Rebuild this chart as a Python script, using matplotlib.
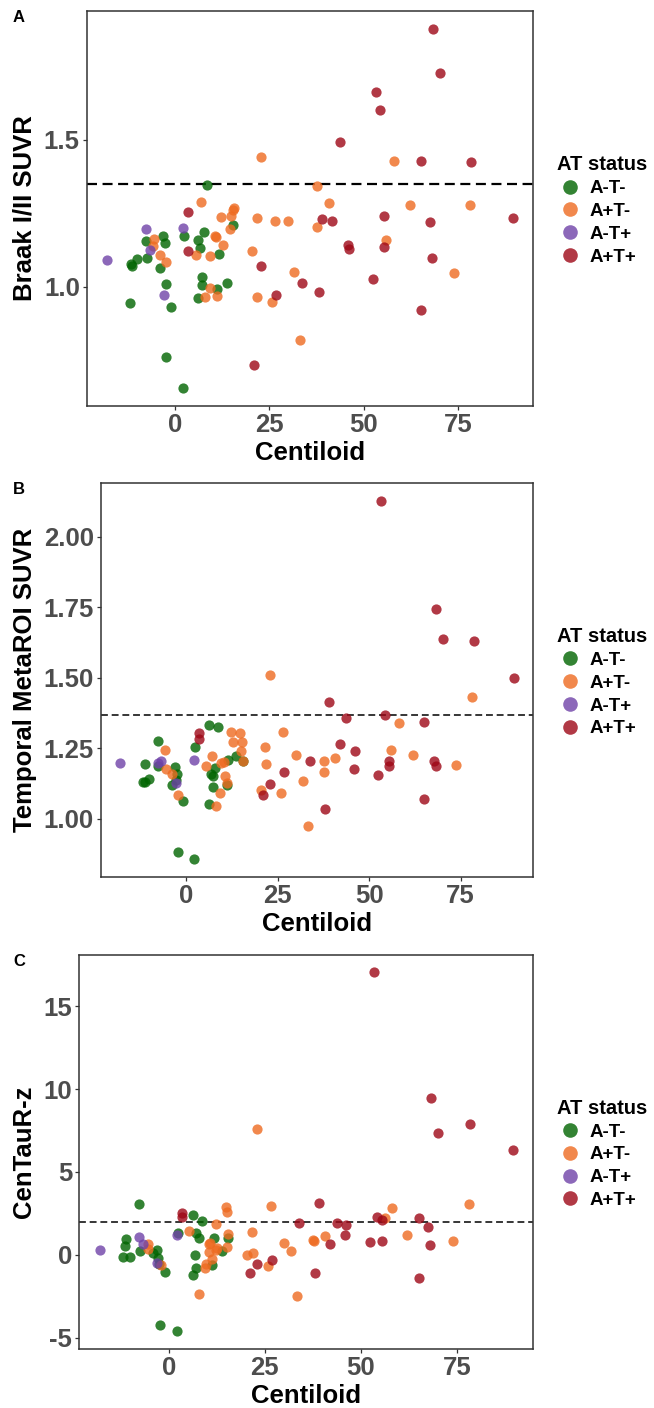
import matplotlib
matplotlib.use("Agg")
import matplotlib.pyplot as plt
from matplotlib.lines import Line2D
import numpy as np

plt.rcParams['font.family'] = ['Liberation Sans', 'DejaVu Sans']
plt.rcParams['font.weight'] = 'bold'

statuses = ["A-T-", "A+T-", "A-T+", "A+T+"]
colors = {"A-T-": "#006400", "A+T-": "#EE6A20", "A-T+": "#6F42A8", "A+T+": "#9E0716"}

# ---------------- Panel A: Braak I/II SUVR ----------------
a_neg_x = [8.5, 15.4, 7.7, -3.1, 2.4, -7.7, -2.7, 6.1, 6.6, 11.6, -10.0, -7.5, -11.6, -11.3, -4.0,
           7.2, -2.5, 7.2, 13.7, 11.1, 6.1, -11.9, -1.1, -2.3, 2.1]
a_neg_y = [1.346, 1.209, 1.186, 1.173, 1.172, 1.156, 1.148, 1.161, 1.131, 1.111, 1.095, 1.098, 1.078,
           1.070, 1.063, 1.032, 1.011, 1.006, 1.014, 0.994, 0.962, 0.945, 0.933, 0.761, 0.656]
a_apos_x = [22.9, 58.1, 37.7, 7.0, 40.8, 62.1, 78.2, 15.5, 15.3, 14.9, 12.2, 21.7, 26.4, 30.0, 14.7,
            37.7, -5.5, -5.8, 10.6, 10.8, 56.0, 12.7, -3.9, 5.5, 9.3, 20.5, -2.4, 31.6, 73.8, 9.3,
            8.0, 11.1, 21.8, 25.6, 33.2]
a_apos_y = [1.441, 1.428, 1.343, 1.289, 1.285, 1.279, 1.277, 1.268, 1.260, 1.240, 1.236, 1.234, 1.223,
            1.223, 1.197, 1.205, 1.163, 1.140, 1.173, 1.169, 1.161, 1.141, 1.109, 1.109, 1.106, 1.123,
            1.085, 1.049, 1.046, 0.995, 0.965, 0.968, 0.966, 0.947, 0.819]
a_tpos_x = [-18.0, -7.8, 2.2, -6.7, -2.9]
a_tpos_y = [1.093, 1.198, 1.199, 1.124, 0.972]
a_both_x = [68.4, 70.2, 53.3, 54.4, 43.6, 65.1, 78.5, 89.5, 55.3, 39.0, 41.7, 67.5, 45.8, 46.2, 55.3,
            68.1, 3.5, 3.5, 22.9, 33.7, 52.5, 38.2, 26.8, 65.1, 21.0]
a_both_y = [1.877, 1.728, 1.661, 1.602, 1.493, 1.429, 1.426, 1.235, 1.241, 1.232, 1.223, 1.221, 1.144,
            1.130, 1.137, 1.097, 1.256, 1.123, 1.070, 1.012, 1.027, 0.983, 0.974, 0.920, 0.736]
a_cut = 1.35
a_yticks = [1.0, 1.5]
a_yticklabels = ["1.0", "1.5"]

# ---------------- Panel B: Temporal MetaROI SUVR ----------------
b_neg_x = [6.2, 8.6, -7.8, 2.3, -11.2, -7.8, -3.1, -2.5, -10.1, -11.9, -11.4, -2.8, -3.9, -0.9, -2.3,
           2.2, 7.8, 6.7, 7.2, 7.2, 11.1, 6.1, 11.4, 13.5, 15.5]
b_neg_y = [1.334, 1.325, 1.275, 1.254, 1.195, 1.186, 1.183, 1.160, 1.142, 1.131, 1.131, 1.139, 1.121,
           1.064, 0.882, 0.856, 1.180, 1.160, 1.151, 1.113, 1.121, 1.051, 1.209, 1.224, 1.205]
b_apos_x = [-5.7, -5.5, -4.0, -2.3, 5.3, 7.0, 8.0, 9.2, 9.4, 10.2, 10.6, 11.1, 12.1, 12.8, 14.8, 15.0,
            15.1, 15.4, 20.4, 21.6, 21.8, 22.8, 25.8, 26.4, 30.1, 31.8, 33.4, 37.7, 37.7, 40.7, 56.0,
            58.1, 62.0, 73.8, 78.2]
b_apos_y = [1.243, 1.177, 1.160, 1.084, 1.189, 1.222, 1.047, 1.092, 1.198, 1.203, 1.153, 1.127, 1.307,
            1.271, 1.303, 1.239, 1.271, 1.206, 1.103, 1.256, 1.195, 1.509, 1.090, 1.309, 1.226, 1.134,
            0.974, 1.204, 1.167, 1.216, 1.243, 1.340, 1.226, 1.192, 1.434]
b_tpos_x = [-18.0, -6.8, -7.7, 2.2, -2.8]
b_tpos_y = [1.198, 1.204, 1.198, 1.209, 1.127]
b_both_x = [53.2, 68.3, 70.3, 78.6, 89.5, 39.0, 54.3, 43.6, 65.1, 3.5, 3.5, 41.9, 46.1, 33.7, 55.4,
            55.4, 67.6, 68.2, 45.8, 52.4, 26.7, 22.9, 21.0, 38.0, 65.1]
b_both_y = [2.127, 1.744, 1.639, 1.630, 1.499, 1.416, 1.367, 1.356, 1.343, 1.305, 1.283, 1.267, 1.242,
            1.205, 1.205, 1.189, 1.206, 1.188, 1.176, 1.154, 1.165, 1.124, 1.085, 1.034, 1.070]
b_cut = 1.37
b_yticks = [1.00, 1.25, 1.50, 1.75, 2.00]
b_yticklabels = ["1.00", "1.25", "1.50", "1.75", "2.00"]

# ---------------- Panel C: CenTauR-z ----------------
c_neg_x = [-7.7, 6.3, 8.7, 2.4, 7.1, 7.8, 11.8, 15.4, -11.0, -11.3, -7.5, -2.9, -4.0, -2.7, -11.9,
           -10.0, 6.8, 13.8, -2.4, -0.9, 7.1, 11.3, 6.3, -2.2, 2.1]
c_neg_y = [3.05, 2.42, 2.04, 1.30, 1.30, 1.00, 1.04, 1.00, 0.96, 0.52, 0.22, 0.30, 0.10, -0.16, -0.10,
           -0.10, -0.02, 0.22, -0.56, -1.02, -0.76, -0.60, -1.24, -4.21, -4.61]
c_apos_x = [22.9, 78.1, 26.5, 58.1, 14.8, 15.2, 12.3, 56.2, 5.4, 21.8, 15.4, 62.1, 40.7, 37.6, 37.8,
            73.9, 30.0, 10.7, -5.5, -5.4, 31.8, 12.6, 15.2, 10.5, 22.0, 20.5, 11.2, 9.6, 9.4, 25.9,
            -2.1, 7.9, 33.3, 10.4, 12.2]
c_apos_y = [7.60, 3.09, 2.93, 2.81, 2.89, 2.59, 1.88, 2.24, 1.42, 1.38, 1.28, 1.18, 1.16, 0.90, 0.86,
            0.82, 0.72, 0.70, 0.68, 0.38, 0.26, 0.44, 0.50, 0.16, 0.14, -0.02, -0.26, -0.52, -0.76,
            -0.66, -0.58, -2.36, -2.48, 0.64, 0.30]
c_tpos_x = [-17.9, -7.8, -6.6, 2.2, -2.9]
c_tpos_y = [0.30, 1.08, 0.68, 1.22, -0.46]
c_both_x = [53.3, 68.3, 78.5, 70.1, 89.5, 39.1, 3.6, 3.6, 54.2, 65.1, 55.5, 33.8, 43.7, 46.2, 67.5,
            45.8, 52.5, 55.4, 41.9, 68.1, 26.8, 23.0, 21.1, 38.1, 65.1]
c_both_y = [17.03, 9.44, 7.90, 7.33, 6.35, 3.11, 2.50, 2.30, 2.26, 2.24, 2.10, 1.90, 1.94, 1.78, 1.68,
            1.20, 0.78, 0.84, 0.68, 0.62, -0.28, -0.54, -1.08, -1.12, -1.42]
c_cut = 2.0
c_yticks = [-5, 0, 5, 10, 15]
c_yticklabels = ["-5", "0", "5", "10", "15"]

x_ticks = [0, 25, 50, 75]
x_ticklabels = ["0", "25", "50", "75"]

W, H = 654, 1408
fig = plt.figure(figsize=(W / 100, H / 100), dpi=100)


def rect(left, top, right, bottom):
    return [left / W, 1 - bottom / H, (right - left) / W, (bottom - top) / H]


panels = [
    dict(tag="A", ylabel="Braak I/II SUVR", rect=rect(86.7, 11, 533.3, 406),
         data=[(a_neg_x, a_neg_y), (a_apos_x, a_apos_y), (a_tpos_x, a_tpos_y), (a_both_x, a_both_y)],
         cut=a_cut, yt=a_yticks, ytl=a_yticklabels, dash_lw=1.6, ylab_px=25, tag_y=18),
    dict(tag="B", ylabel="Temporal MetaROI SUVR", rect=rect(100.8, 483.3, 533.3, 877.3),
         data=[(b_neg_x, b_neg_y), (b_apos_x, b_apos_y), (b_tpos_x, b_tpos_y), (b_both_x, b_both_y)],
         cut=b_cut, yt=b_yticks, ytl=b_yticklabels, dash_lw=1.1, ylab_px=25, tag_y=490),
    dict(tag="C", ylabel="CenTauR-z", rect=rect(79.2, 954.5, 533.3, 1349.3),
         data=[(c_neg_x, c_neg_y), (c_apos_x, c_apos_y), (c_tpos_x, c_tpos_y), (c_both_x, c_both_y)],
         cut=c_cut, yt=c_yticks, ytl=c_yticklabels, dash_lw=1.1, ylab_px=24.5, tag_y=962),
]

for p in panels:
    ax = fig.add_axes(p["rect"])
    allx = np.concatenate([np.asarray(d[0]) for d in p["data"]])
    ally = np.concatenate([np.asarray(d[1]) for d in p["data"]] + [np.array([p["cut"]])])
    for st, (xs, ys) in zip(statuses, p["data"]):
        ax.scatter(xs, ys, s=54, color=colors[st], alpha=0.8, linewidths=0, zorder=3)
    ax.axhline(p["cut"], color="black", lw=p["dash_lw"], dashes=(4.5, 2.5), zorder=2)
    xr = allx.max() - allx.min()
    yr = ally.max() - ally.min()
    ax.set_xlim(allx.min() - 0.05 * xr, allx.max() + 0.05 * xr)
    ax.set_ylim(ally.min() - 0.05 * yr, ally.max() + 0.05 * yr)
    ax.set_xticks(x_ticks)
    ax.set_xticklabels(x_ticklabels)
    ax.set_yticks(p["yt"])
    ax.set_yticklabels(p["ytl"])
    ax.tick_params(axis="both", length=3.0, width=0.9, color="#333333", pad=2,
                   labelsize=18.5, labelcolor="#4D4D4D")
    for lab in ax.get_xticklabels() + ax.get_yticklabels():
        lab.set_fontweight("bold")
    for sp in ax.spines.values():
        sp.set_color("#333333")
        sp.set_linewidth(1.1)
    axw = p["rect"][2] * W
    axh = p["rect"][3] * H
    ax.set_xlabel("Centiloid", fontsize=18.5, fontweight="bold", color="black")
    ax.xaxis.label.set_verticalalignment("center")
    ax.xaxis.set_label_coords(0.5, -46.5 / axh)
    ax.set_ylabel(p["ylabel"], fontsize=18.5, fontweight="bold", color="black")
    ax.yaxis.label.set_verticalalignment("center")
    ax.yaxis.set_label_coords((p["ylab_px"] - p["rect"][0] * W) / axw, 0.5)

    fig.text(19 / W, 1 - p["tag_y"] / H, p["tag"], fontsize=12, fontweight="bold",
             ha="center", va="center")

    handles = [Line2D([], [], marker="o", ls="", markersize=10.5, color=colors[st], alpha=0.8,
                      markeredgewidth=0) for st in statuses]
    axc_top = 1 - (p["rect"][1] + p["rect"][3])
    center_px = (axc_top + p["rect"][3] / 2) * H
    ax.legend(handles, statuses, title="AT status", loc="center left",
              bbox_to_anchor=(557 / W, 1 - (center_px + 2) / H),
              bbox_transform=fig.transFigure, frameon=False, borderpad=0,
              handlelength=1.4, handletextpad=0.35, labelspacing=0.3,
              borderaxespad=0, alignment="left",
              prop=dict(size=13.5, weight="bold"),
              title_fontproperties=dict(size=14.5, weight="bold"))

fig.savefig("out.png", dpi=100)
